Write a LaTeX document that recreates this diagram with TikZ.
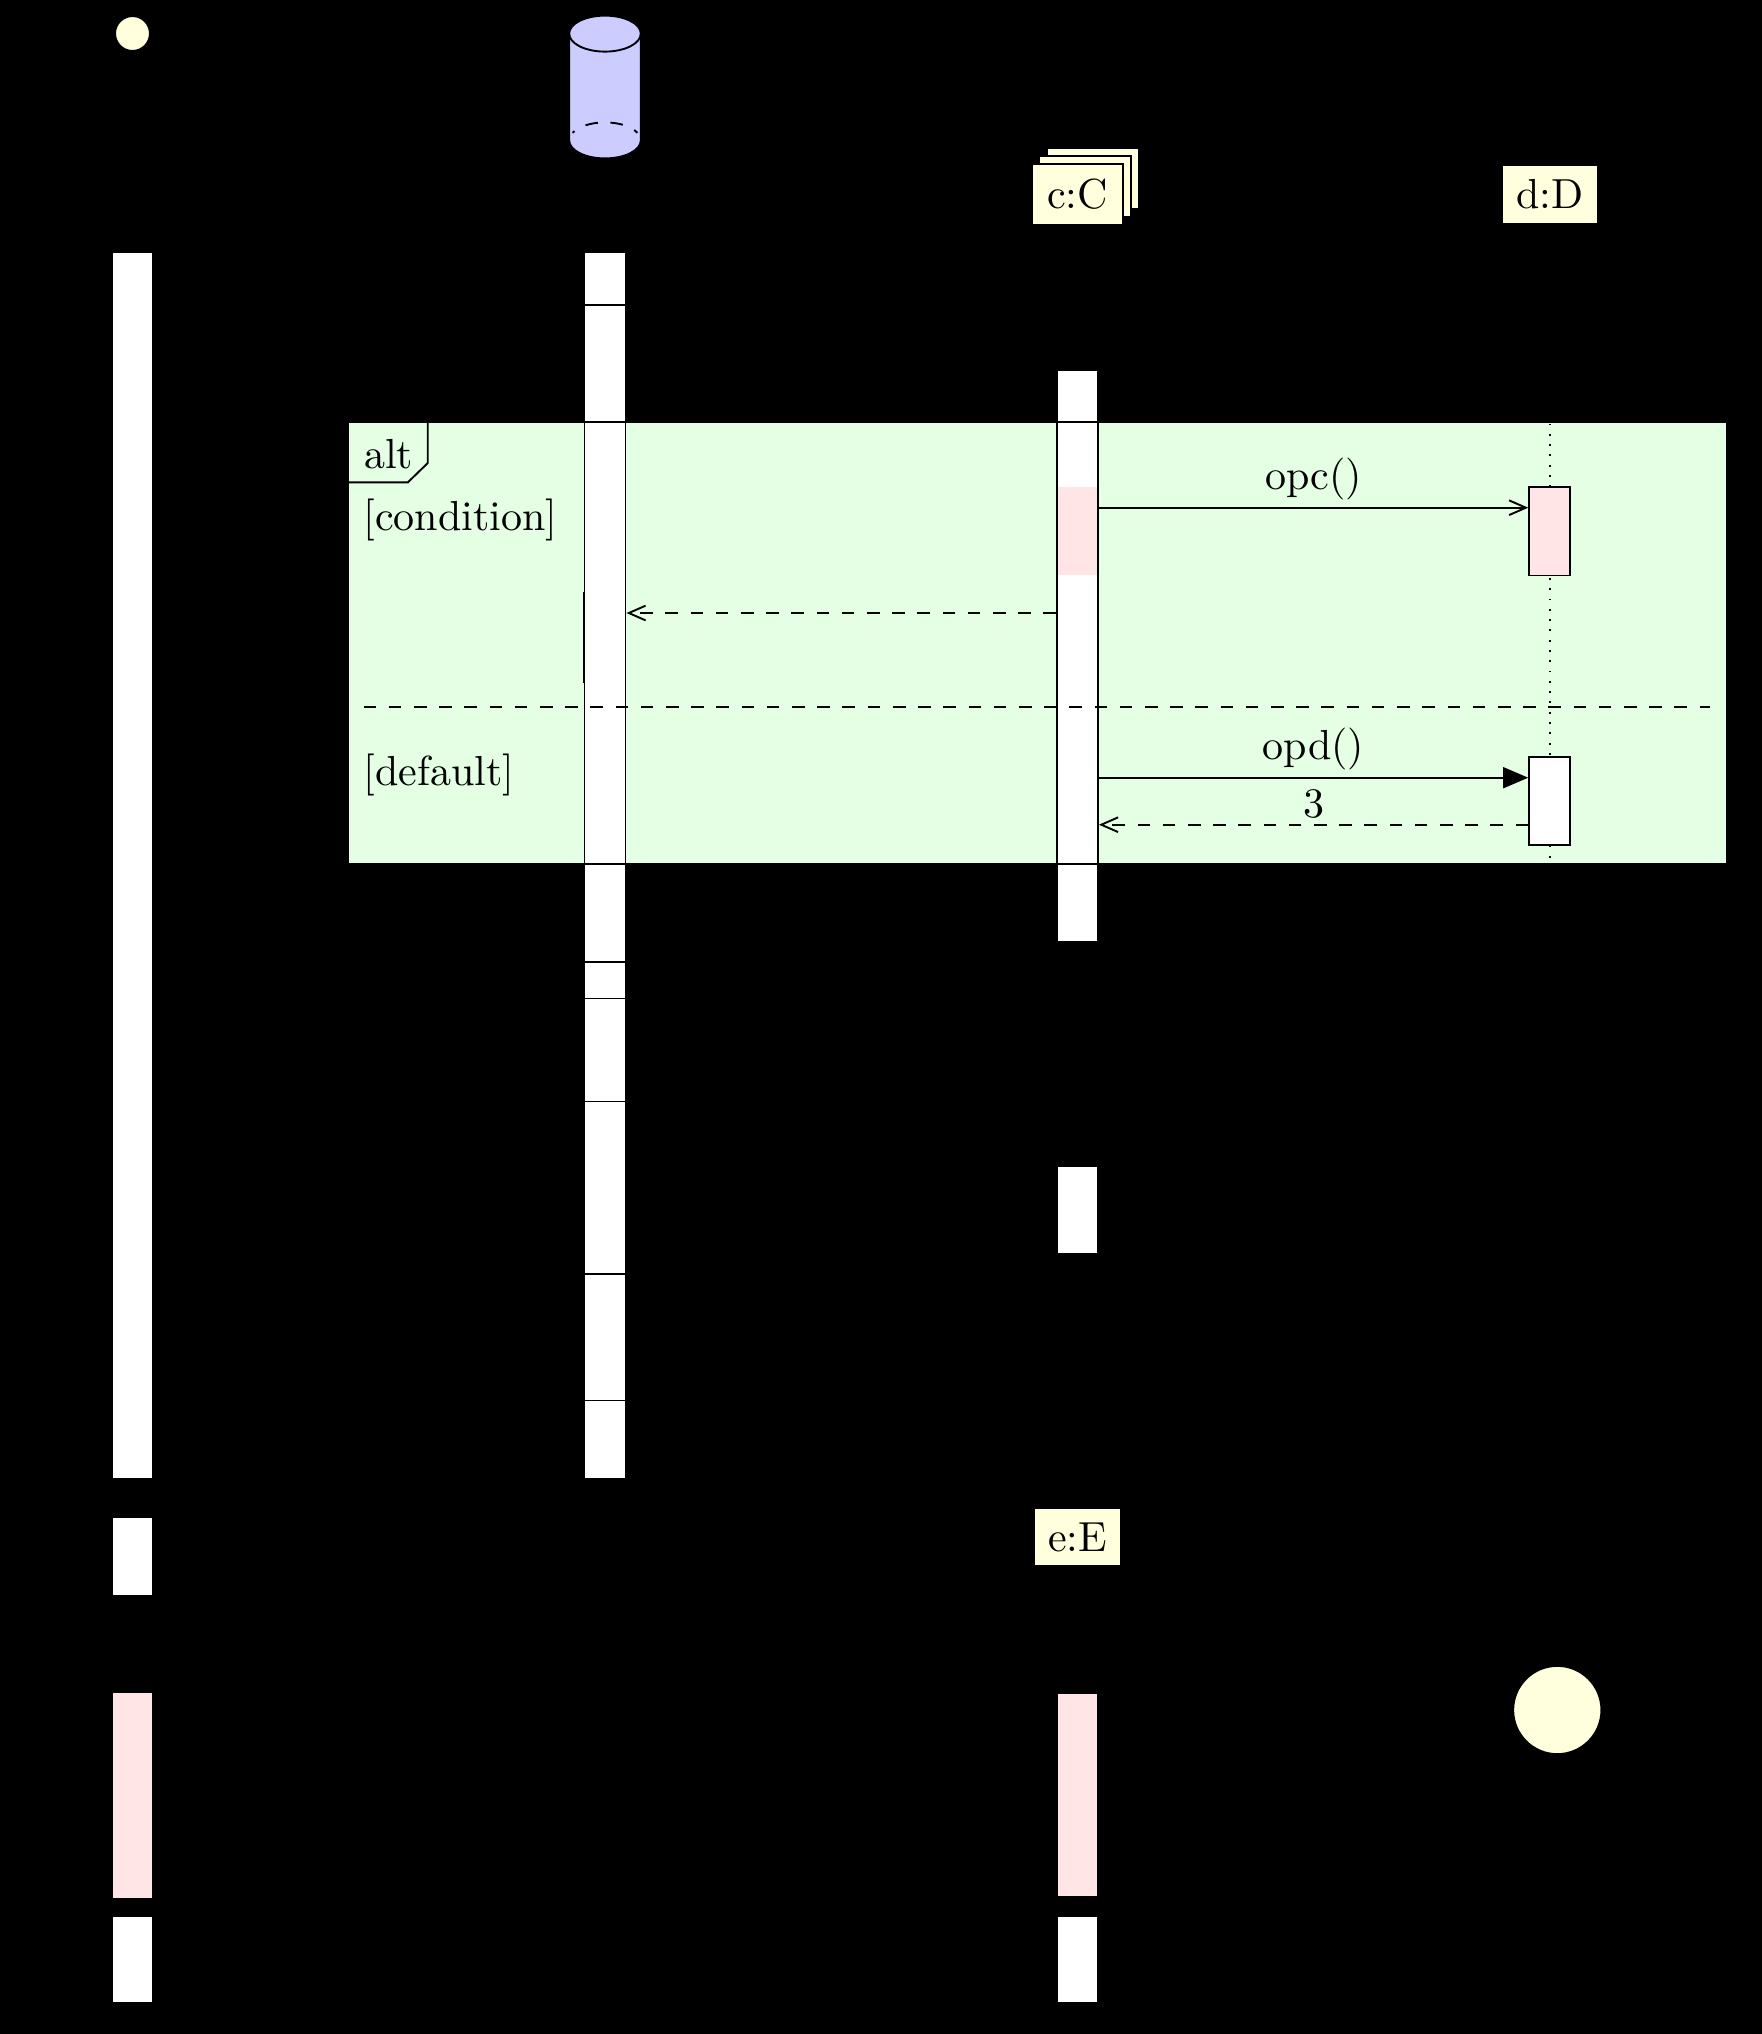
\documentclass[tikz,border=0pt]{standalone}
\usetikzlibrary{arrows.meta}
\definecolor{objyellow}{HTML}{FFFFDD}
\begin{document}
\begin{tikzpicture}[x=0.238pt,y=-0.238pt,line width=0.45pt]
        \tikzstyle{thread}=[rectangle,draw=black,fill=white,minimum width=9.75pt,inner sep=0pt]
        \tikzstyle{call}=[thread,fill=red!10]
        \tikzstyle{object}=[rectangle,draw=black,fill=objyellow,inner sep=0pt,minimum height=14pt]
        \tikzstyle{msg}=[draw,-{Straight Barb[length=4pt,width=3.5pt]}]
        \tikzstyle{reply}=[msg,dashed]
        \tikzstyle{sync}=[draw,-{Triangle[length=6pt,width=5pt]}]
        \tikzstyle{lbl}=[inner sep=0pt,anchor=base]
        \tikzstyle{guard}=[inner sep=0pt,anchor=base west]
       \fill[black] (0,0) rectangle (1762,2034);
       \useasboundingbox (0,0) rectangle (1762,2034);
       \begin{scope}
         % objects
         \node [circle,draw=black,fill=objyellow,minimum size=8.3pt,inner sep=0pt] (init) at (132.5,33.5) {};
         \coordinate (dbt) at (569.2,33.6);
         \coordinate (dbb) at (569.2,140.4);
         \coordinate (dbc) at (605,140.4);
         \path [draw,fill=blue!20] (dbt) -- (dbb) arc [start angle=180,end angle=0,x radius=35.8,y radius=18] -- (640.8,33.6) arc [start angle=360,end angle=180,x radius=35.8,y radius=18] -- cycle;
         \draw (dbt) arc [start angle=180,end angle=0,x radius=35.8,y radius=18];
         \draw [dash pattern=on 3pt off 3pt,dash phase=2.4pt] (dbc) ++(205:35.8 and 18) arc [start angle=205,end angle=335,x radius=35.8,y radius=18];
         \node [object,minimum width=21.8pt,minimum height=14.45pt] (c3) at (1093,178.8) {};
         \node [object,minimum width=21.8pt,minimum height=14.45pt] (c2) at (1085.2,186.4) {};
         \node [object,minimum width=21.8pt,minimum height=14.45pt] (c1) at (1077.5,194.5) {c:C};
         \node [object,minimum width=23pt] (d0) at (1550,194.5) {d:D};
         \node [object,minimum width=20.8pt] (e0) at (1077.5,1537) {e:E};
         \node [circle,draw=black,fill=objyellow,minimum size=21pt,inner sep=0pt] (stop) at (1557.3,1710) {};
         % alt frame
         \node [rectangle,draw=black,fill=green!10,minimum width=1378.6*0.238pt,minimum height=441.7*0.238pt,inner sep=0pt] (alt) at (1037.6,643.3) {};
         \draw [black] (alt.north west -| 427.8,0) -- (427.8,463) -- (407.9,482.3) -- (alt.west |- 0,482.3);
         \node [guard] (altl) at (363.2,468) {alt};
         \node [guard] (cond) at (362.6,530.6) {[condition]};
         \node [guard] (dflt) at (362.6,785.5) {[default]};
         % lifeline
         \coordinate (lt) at (1549.7,423.5);
         \coordinate (lb) at (1549.7,863);
         \path [draw,dotted] (lt) -- (lb);
         % threads
         \node [thread,minimum height=291.9pt] (a1) at (132.5,865.5) {};
         \node [thread,minimum height=18.9pt] (a2) at (132.5,1556.5) {};
         \node [call,minimum height=49.3pt] (a3) at (132.5,1795.15) {};
         \node [thread,minimum height=20.85pt] (a4) at (132.5,1959.5) {};
         \node [thread,minimum height=12.57pt] (b1) at (605,278.6) {};
         \node [thread,minimum height=27.85pt] (b2) at (605,363.5) {};
         \node [thread,minimum height=105.2pt] (b3) at (605,643) {};
         \draw (584,592) -- (584,683);
         \node [thread,minimum height=23.32pt] (b4) at (605,913) {};
         \node [thread,minimum height=8.69pt] (b5) at (605,980.25) {};
         \node [thread,minimum height=24.51pt] (b6) at (605,1050) {};
         \node [thread,minimum height=41.06pt] (b7) at (605,1187.75) {};
         \node [thread,minimum height=30.1pt] (b8) at (605,1337.25) {};
         \node [thread,minimum height=18.64pt] (b9) at (605,1439.65) {};
         \node [thread,minimum height=12.33pt] (k1) at (1077.5,396.1) {};
         \node [thread,minimum height=105.2pt] (k2) at (1077.5,643) {};
         \node [call,draw=none,minimum width=9.28pt,minimum height=21.1pt] (kp) at (1077.5,531.15) {};
         \node [thread,minimum height=18.66pt] (k3) at (1077.5,903.2) {};
         \node [thread,minimum height=20.85pt] (k4) at (1077.5,1210) {};
         \node [call,minimum height=48.7pt] (k5) at (1077.5,1794.9) {};
         \node [thread,minimum height=20.85pt] (k6) at (1077.5,1959.5) {};
         \node [call,minimum height=21.1pt] (d1) at (1549.7,531.15) {};
         \node [thread,minimum height=21.1pt] (d2) at (1549.7,801) {};
         % messages
         \coordinate (opcy) at (0,507.7);
         \coordinate (rety) at (0,613);
         \coordinate (opdy) at (0,777.7);
         \coordinate (thry) at (0,824.7);
         \path [msg] (k2.east |- opcy) -- (d1.west |- opcy);
         \path [reply] (k2.west |- rety) -- (b3.east |- rety);
         \path [sync] (k2.east |- opdy) -- (d2.west |- opdy);
         \path [reply] (d2.west |- thry) -- (k2.east |- thry);
         \node [lbl] (opc) at (1313.5,489.3) {opc()};
         \node [lbl] (opd) at (1313.3,759.3) {opd()};
         \node [lbl] (three) at (1313.5,817) {3};
         % guard divider
         \coordinate (divl) at (363.5,707);
         \coordinate (divr) at (1710,707);
         \draw [dashed] (divl) -- (divr);
        \end{scope}
      \end{tikzpicture}
\end{document}
